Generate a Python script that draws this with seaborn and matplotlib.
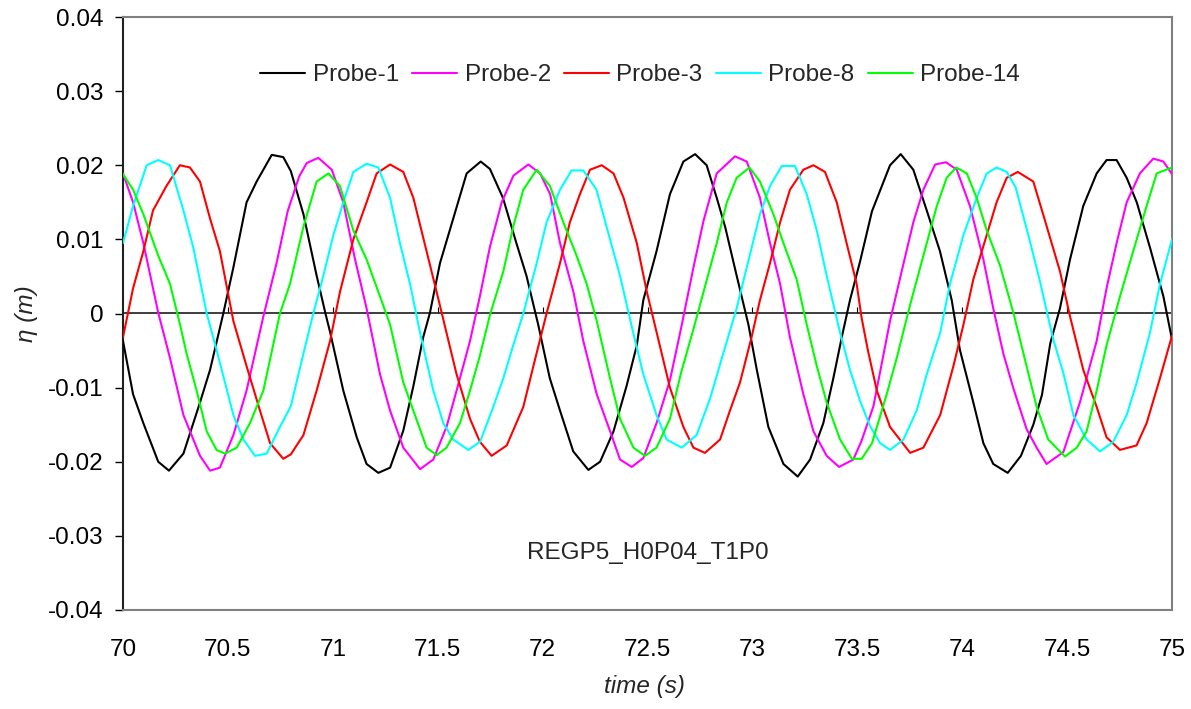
import numpy as np
import pandas as pd
import matplotlib
matplotlib.use("Agg")
import matplotlib.pyplot as plt
import seaborn as sns

# ---------------- data ----------------
probes = ["Probe-1", "Probe-2", "Probe-3", "Probe-8", "Probe-14"]
colors = ["#000000", "#FF00FF", "#FF0000", "#00FFFF", "#00FF00"]

t_p1 = [70.000, 70.048, 70.097, 70.168, 70.219, 70.288, 70.367, 70.415, 70.478, 70.526,
        70.589, 70.637, 70.709, 70.764, 70.800, 70.860, 70.923, 70.965, 70.987, 71.050,
        71.114, 71.161, 71.217, 71.273, 71.336, 71.384, 71.431, 71.463, 71.511, 71.574,
        71.638, 71.705, 71.749, 71.811, 71.875, 71.923, 71.979, 72.034, 72.083, 72.146,
        72.218, 72.274, 72.338, 72.400, 72.449, 72.480, 72.543, 72.607, 72.671, 72.727,
        72.782, 72.830, 72.870, 72.925, 72.981, 73.021, 73.076, 73.148, 73.216, 73.275,
        73.338, 73.386, 73.426, 73.465, 73.513, 73.570, 73.656, 73.707, 73.767, 73.831,
        73.894, 73.950, 73.989, 74.053, 74.101, 74.148, 74.217, 74.280, 74.339, 74.380,
        74.420, 74.466, 74.514, 74.577, 74.641, 74.688, 74.736, 74.784, 74.832, 74.895,
        74.959, 75.000]
eta_p1 = [-0.0037, -0.0109, -0.0148, -0.0200, -0.0212, -0.0189, -0.0120, -0.0076, 0.0000, 0.0062,
          0.0150, 0.0178, 0.0214, 0.0211, 0.0192, 0.0134, 0.0051, 0.0000, -0.0025, -0.0104,
          -0.0167, -0.0203, -0.0215, -0.0208, -0.0158, -0.0098, -0.0032, 0.0001, 0.0068, 0.0128,
          0.0189, 0.0205, 0.0195, 0.0156, 0.0095, 0.0051, -0.0015, -0.0087, -0.0131, -0.0186,
          -0.0211, -0.0200, -0.0159, -0.0098, -0.0043, 0.0018, 0.0084, 0.0161, 0.0205, 0.0215,
          0.0200, 0.0156, 0.0117, 0.0051, -0.0015, -0.0076, -0.0153, -0.0203, -0.0220, -0.0197,
          -0.0148, -0.0087, -0.0032, 0.0018, 0.0070, 0.0138, 0.0200, 0.0215, 0.0194, 0.0139,
          0.0084, 0.0018, -0.0049, -0.0120, -0.0175, -0.0203, -0.0215, -0.0192, -0.0150, -0.0110,
          -0.0040, 0.0007, 0.0073, 0.0145, 0.0189, 0.0207, 0.0207, 0.0183, 0.0150, 0.0089,
          0.0023, -0.0035]

t_p2 = [70.000, 70.048, 70.097, 70.168, 70.224, 70.288, 70.367, 70.415, 70.462, 70.526,
        70.589, 70.669, 70.732, 70.785, 70.840, 70.876, 70.931, 70.995, 71.050, 71.106,
        71.161, 71.225, 71.273, 71.336, 71.416, 71.479, 71.542, 71.590, 71.654, 71.701,
        71.749, 71.805, 71.861, 71.932, 71.988, 72.036, 72.083, 72.147, 72.194, 72.258,
        72.322, 72.369, 72.425, 72.480, 72.543, 72.607, 72.660, 72.719, 72.767, 72.830,
        72.917, 72.973, 73.036, 73.084, 73.132, 73.179, 73.243, 73.291, 73.354, 73.413,
        73.481, 73.520, 73.577, 73.656, 73.720, 73.767, 73.815, 73.871, 73.923, 73.974,
        74.037, 74.101, 74.148, 74.196, 74.244, 74.307, 74.355, 74.402, 74.482, 74.561,
        74.641, 74.688, 74.736, 74.784, 74.847, 74.911, 74.959, 75.000]
eta_p2 = [0.0189, 0.0150, 0.0095, 0.0001, -0.0060, -0.0137, -0.0192, -0.0212, -0.0208, -0.0164,
          -0.0104, -0.0004, 0.0068, 0.0138, 0.0185, 0.0203, 0.0210, 0.0194, 0.0150, 0.0073,
          0.0007, -0.0082, -0.0131, -0.0181, -0.0210, -0.0197, -0.0153, -0.0104, -0.0037, 0.0023,
          0.0090, 0.0150, 0.0186, 0.0201, 0.0189, 0.0161, 0.0095, 0.0029, -0.0037, -0.0109,
          -0.0159, -0.0197, -0.0207, -0.0195, -0.0148, -0.0090, -0.0020, 0.0062, 0.0125, 0.0189,
          0.0212, 0.0205, 0.0156, 0.0095, 0.0040, -0.0032, -0.0109, -0.0159, -0.0192, -0.0207,
          -0.0197, -0.0172, -0.0125, -0.0010, 0.0067, 0.0123, 0.0167, 0.0201, 0.0204, 0.0194,
          0.0145, 0.0073, 0.0007, -0.0054, -0.0101, -0.0156, -0.0181, -0.0203, -0.0187, -0.0120,
          -0.0037, 0.0034, 0.0095, 0.0150, 0.0189, 0.0209, 0.0205, 0.0188]

t_p3 = [70.000, 70.048, 70.097, 70.143, 70.207, 70.271, 70.319, 70.367, 70.415, 70.462,
        70.526, 70.589, 70.653, 70.701, 70.764, 70.800, 70.860, 70.923, 70.987, 71.034,
        71.098, 71.161, 71.209, 71.273, 71.336, 71.384, 71.447, 71.495, 71.542, 71.590,
        71.654, 71.701, 71.757, 71.829, 71.908, 71.956, 72.019, 72.083, 72.130, 72.178,
        72.226, 72.282, 72.338, 72.386, 72.449, 72.497, 72.544, 72.607, 72.671, 72.719,
        72.774, 72.846, 72.893, 72.941, 72.996, 73.036, 73.084, 73.132, 73.179, 73.243,
        73.291, 73.346, 73.402, 73.449, 73.497, 73.520, 73.550, 73.593, 73.656, 73.752,
        73.815, 73.895, 73.958, 74.006, 74.053, 74.117, 74.164, 74.212, 74.265, 74.339,
        74.395, 74.466, 74.514, 74.577, 74.641, 74.688, 74.752, 74.831, 74.879, 74.943,
        75.000]
eta_p3 = [-0.0032, 0.0034, 0.0084, 0.0139, 0.0172, 0.0200, 0.0197, 0.0178, 0.0128, 0.0084,
          -0.0010, -0.0071, -0.0131, -0.0175, -0.0196, -0.0190, -0.0164, -0.0104, -0.0037, 0.0029,
          0.0100, 0.0150, 0.0189, 0.0201, 0.0191, 0.0156, 0.0084, 0.0029, -0.0026, -0.0082,
          -0.0142, -0.0173, -0.0192, -0.0178, -0.0126, -0.0071, 0.0000, 0.0068, 0.0123, 0.0161,
          0.0194, 0.0200, 0.0189, 0.0156, 0.0095, 0.0029, -0.0026, -0.0100, -0.0153, -0.0181,
          -0.0188, -0.0170, -0.0131, -0.0093, -0.0032, 0.0018, 0.0068, 0.0123, 0.0167, 0.0194,
          0.0200, 0.0191, 0.0150, 0.0095, 0.0040, -0.0005, -0.0049, -0.0104, -0.0153, -0.0188,
          -0.0181, -0.0137, -0.0071, -0.0015, 0.0046, 0.0106, 0.0150, 0.0183, 0.0191, 0.0178,
          0.0125, 0.0057, -0.0004, -0.0076, -0.0126, -0.0167, -0.0184, -0.0178, -0.0148, -0.0087,
          -0.0030]

t_p8 = [70.000, 70.048, 70.113, 70.168, 70.224, 70.288, 70.335, 70.399, 70.446, 70.526,
        70.574, 70.629, 70.685, 70.748, 70.800, 70.860, 70.907, 70.955, 71.003, 71.050,
        71.098, 71.161, 71.217, 71.273, 71.320, 71.368, 71.416, 71.479, 71.527, 71.574,
        71.646, 71.702, 71.765, 71.813, 71.860, 71.908, 71.972, 72.019, 72.083, 72.138,
        72.194, 72.257, 72.305, 72.369, 72.432, 72.480, 72.543, 72.591, 72.663, 72.734,
        72.798, 72.861, 72.925, 72.973, 73.036, 73.084, 73.140, 73.203, 73.259, 73.307,
        73.354, 73.418, 73.465, 73.513, 73.561, 73.609, 73.656, 73.720, 73.783, 73.831,
        73.895, 73.942, 74.006, 74.069, 74.117, 74.164, 74.212, 74.255, 74.315, 74.371,
        74.434, 74.482, 74.530, 74.593, 74.657, 74.720, 74.784, 74.832, 74.895, 74.943,
        75.000]
eta_p8 = [0.0095, 0.0145, 0.0200, 0.0207, 0.0200, 0.0139, 0.0089, 0.0000, -0.0049, -0.0137,
          -0.0170, -0.0192, -0.0189, -0.0153, -0.0125, -0.0054, 0.0000, 0.0051, 0.0106, 0.0150,
          0.0191, 0.0202, 0.0197, 0.0156, 0.0095, 0.0040, -0.0026, -0.0104, -0.0148, -0.0170,
          -0.0184, -0.0173, -0.0126, -0.0087, -0.0043, 0.0000, 0.0068, 0.0123, 0.0167, 0.0193,
          0.0193, 0.0167, 0.0117, 0.0051, -0.0026, -0.0082, -0.0137, -0.0170, -0.0181, -0.0164,
          -0.0115, -0.0054, 0.0007, 0.0062, 0.0134, 0.0172, 0.0199, 0.0199, 0.0161, 0.0112,
          0.0051, -0.0026, -0.0076, -0.0118, -0.0152, -0.0175, -0.0184, -0.0170, -0.0131, -0.0082,
          -0.0026, 0.0040, 0.0106, 0.0156, 0.0189, 0.0197, 0.0191, 0.0170, 0.0106, 0.0043,
          -0.0035, -0.0080, -0.0137, -0.0170, -0.0186, -0.0173, -0.0137, -0.0093, -0.0026, 0.0040,
          0.0100]

t_p14 = [70.000, 70.048, 70.097, 70.168, 70.224, 70.272, 70.303, 70.351, 70.399, 70.446,
         70.486, 70.542, 70.605, 70.669, 70.748, 70.796, 70.860, 70.923, 70.979, 71.034,
         71.098, 71.161, 71.225, 71.273, 71.336, 71.384, 71.447, 71.495, 71.542, 71.606,
         71.654, 71.701, 71.749, 71.813, 71.860, 71.908, 71.972, 72.035, 72.099, 72.162,
         72.210, 72.258, 72.321, 72.369, 72.433, 72.488, 72.543, 72.607, 72.660, 72.719,
         72.767, 72.830, 72.878, 72.925, 72.986, 73.036, 73.100, 73.148, 73.211, 73.259,
         73.307, 73.354, 73.418, 73.474, 73.521, 73.570, 73.640, 73.688, 73.752, 73.815,
         73.879, 73.926, 73.971, 74.022, 74.069, 74.117, 74.180, 74.244, 74.307, 74.355,
         74.410, 74.490, 74.546, 74.593, 74.641, 74.688, 74.752, 74.815, 74.879, 74.927,
         75.000]
eta_p14 = [0.0188, 0.0167, 0.0134, 0.0078, 0.0040, -0.0015, -0.0054, -0.0104, -0.0159, -0.0184,
           -0.0189, -0.0181, -0.0148, -0.0104, 0.0000, 0.0040, 0.0117, 0.0178, 0.0189, 0.0172,
           0.0112, 0.0073, 0.0023, -0.0015, -0.0093, -0.0131, -0.0181, -0.0191, -0.0181, -0.0148,
           -0.0104, -0.0057, -0.0002, 0.0057, 0.0117, 0.0167, 0.0194, 0.0172, 0.0123, 0.0078,
           0.0040, -0.0010, -0.0087, -0.0142, -0.0181, -0.0192, -0.0181, -0.0142, -0.0080, -0.0021,
           0.0029, 0.0095, 0.0150, 0.0183, 0.0197, 0.0178, 0.0134, 0.0095, 0.0046, -0.0015,
           -0.0071, -0.0120, -0.0170, -0.0196, -0.0196, -0.0175, -0.0109, -0.0060, 0.0012, 0.0078,
           0.0145, 0.0183, 0.0197, 0.0189, 0.0156, 0.0112, 0.0065, 0.0001, -0.0071, -0.0126,
           -0.0170, -0.0193, -0.0181, -0.0159, -0.0104, -0.0043, 0.0023, 0.0084, 0.0145, 0.0189,
           0.0197]

x_ticks = [70, 70.5, 71, 71.5, 72, 72.5, 73, 73.5, 74, 74.5, 75]
x_tick_labels = ["70", "70.5", "71", "71.5", "72", "72.5", "73", "73.5", "74", "74.5", "75"]
y_ticks = [-0.04, -0.03, -0.02, -0.01, 0.0, 0.01, 0.02, 0.03, 0.04]
y_tick_labels = ["-0.04", "-0.03", "-0.02", "-0.01", "0", "0.01", "0.02", "0.03", "0.04"]
annotation = "REGP5_H0P04_T1P0"

# ---------------- build long-form table ----------------
series_t = [t_p1, t_p2, t_p3, t_p8, t_p14]
series_eta = [eta_p1, eta_p2, eta_p3, eta_p8, eta_p14]
frames = []
for name, tt, ee in zip(probes, series_t, series_eta):
    frames.append(pd.DataFrame({"time": tt, "eta": ee, "probe": name}))
df = pd.concat(frames, ignore_index=True)

# ---------------- style ----------------
sns.set_theme(style="white")
plt.rcParams["font.family"] = ["Liberation Sans", "DejaVu Sans"]
FS = 17.5

fig = plt.figure(figsize=(11.91, 7.09), dpi=100)
ax = fig.add_axes([123 / 1191, 1 - 610 / 709, (1172 - 123) / 1191, (610 - 17) / 709])

sns.lineplot(data=df, x="time", y="eta", hue="probe", hue_order=probes,
             palette=dict(zip(probes, colors)), sort=False, estimator=None,
             linewidth=1.5, ax=ax, legend=True, zorder=3)

ax.set_xlim(70, 75)
ax.set_ylim(-0.04, 0.04)
ax.set_xticks(x_ticks)
ax.set_xticklabels(x_tick_labels, fontsize=FS)
ax.set_yticks(y_ticks)
ax.set_yticklabels(y_tick_labels, fontsize=FS)
ax.tick_params(axis="x", length=0, pad=21, colors="black")
ax.tick_params(axis="y", direction="out", length=6, width=1, pad=8,
               colors="black", left=True)

for side in ["top", "right", "bottom"]:
    ax.spines[side].set_color("#808080")
    ax.spines[side].set_linewidth(1.5)
ax.spines["left"].set_color("#202020")
ax.spines["left"].set_linewidth(1.5)

# zero line (Excel-style category axis crossing at 0) with small ticks
sec = ax.secondary_xaxis(0.5)
sec.set_xticks(x_ticks[1:-1])
sec.set_xticklabels([])
sec.tick_params(direction="out", length=4, width=0.8, colors="black")
sec.spines["bottom"].set_color("black")
sec.spines["bottom"].set_linewidth(0.9)

ax.set_xlabel("time (s)", fontsize=FS, fontstyle="italic")
ax.set_ylabel("η (m)", fontsize=FS, fontstyle="italic")
ax.xaxis.label.set_va("center")
ax.yaxis.label.set_va("center")
ax.xaxis.set_label_coords(0.497, (610 - 687) / 593)
ax.yaxis.set_label_coords((27 - 123) / 1049, 0.5)

ax.text(72.5, -0.0323, annotation, fontsize=FS, ha="center", va="center")

handles, labels = ax.get_legend_handles_labels()
ax.legend(handles, labels, loc="center", bbox_to_anchor=(0.493, 0.902),
          ncol=5, frameon=False, fontsize=FS, handlelength=1.85,
          handletextpad=0.3, columnspacing=0.55)

fig.savefig("out.png", dpi=100)
